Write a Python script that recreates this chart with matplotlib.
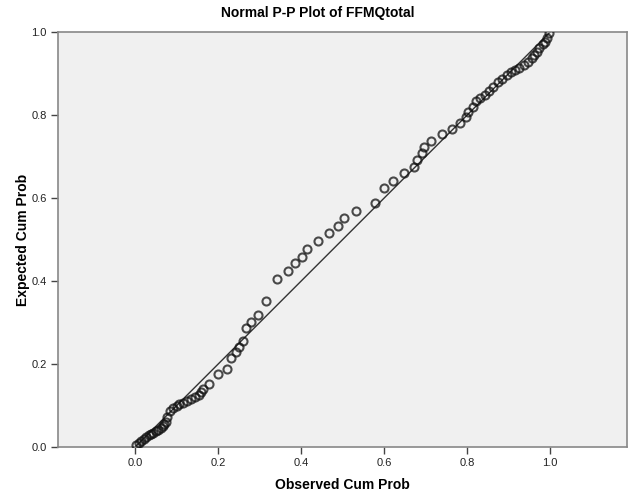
import matplotlib
matplotlib.use("Agg")
import matplotlib.pyplot as plt

plt.rcParams['font.family'] = ['Liberation Sans', 'DejaVu Sans']

# observed vs expected cumulative probabilities
obs = [0.003, 0.010, 0.015, 0.021, 0.027, 0.033, 0.039, 0.044, 0.050, 0.055,
       0.061, 0.066, 0.070, 0.074, 0.077, 0.084, 0.090, 0.100, 0.106, 0.116,
       0.125, 0.135, 0.145, 0.153, 0.158, 0.164, 0.178, 0.200, 0.220, 0.232,
       0.242, 0.251, 0.259, 0.268, 0.280, 0.296, 0.314, 0.341, 0.367, 0.384,
       0.402, 0.414, 0.440, 0.467, 0.488, 0.503, 0.533, 0.577, 0.600, 0.620,
       0.648, 0.672, 0.680, 0.690, 0.697, 0.713, 0.740, 0.764, 0.782, 0.797,
       0.803, 0.813, 0.821, 0.832, 0.844, 0.853, 0.863, 0.875, 0.884, 0.895,
       0.905, 0.915, 0.925, 0.937, 0.947, 0.955, 0.961, 0.967, 0.973, 0.982,
       0.987, 0.993, 0.997]
expd = [0.005, 0.010, 0.015, 0.020, 0.025, 0.028, 0.031, 0.034, 0.038, 0.041,
        0.045, 0.050, 0.055, 0.060, 0.073, 0.087, 0.095, 0.099, 0.103, 0.107,
        0.111, 0.115, 0.120, 0.126, 0.133, 0.140, 0.153, 0.176, 0.189, 0.214,
        0.228, 0.240, 0.255, 0.287, 0.302, 0.319, 0.352, 0.405, 0.423, 0.443,
        0.459, 0.477, 0.496, 0.515, 0.533, 0.552, 0.569, 0.587, 0.623, 0.640,
        0.660, 0.674, 0.692, 0.708, 0.724, 0.738, 0.754, 0.767, 0.781, 0.794,
        0.808, 0.820, 0.834, 0.841, 0.847, 0.858, 0.868, 0.879, 0.887, 0.896,
        0.903, 0.908, 0.914, 0.920, 0.927, 0.937, 0.945, 0.953, 0.961, 0.970,
        0.977, 0.985, 0.997]
ticks = [0.0, 0.2, 0.4, 0.6, 0.8, 1.0]

fig = plt.figure(figsize=(6.35, 4.97), dpi=100)
ax = fig.add_axes([58/635, 50/497, 569/635, 415/497])
ax.set_facecolor('#f0f0f0')

ax.plot([0, 1], [0, 1], color='#333333', lw=1.0, zorder=2)
ax.plot(obs, expd, 'o', ms=5.8, mfc='none', mec='#111111', mew=1.5, alpha=0.75, zorder=3)

ax.set_xlim(-0.186, 1.185)
ax.set_ylim(0, 1)
ax.set_xticks(ticks)
ax.set_yticks(ticks)
ax.set_xticklabels(['%.1f' % t for t in ticks])
ax.set_yticklabels(['%.1f' % t for t in ticks])
ax.tick_params(direction='out', length=5, width=1, color='#444444', labelsize=8, labelcolor='#222222', pad=3)
for s in ax.spines.values():
    s.set_color('#888888')
    s.set_linewidth(1.2)

ax.set_xlabel('Observed Cum Prob', fontsize=10, fontweight='bold', labelpad=7)
ax.set_ylabel('Expected Cum Prob', fontsize=10, fontweight='bold', labelpad=1)
fig.text(0.5, 1 - 13/497, 'Normal P-P Plot of FFMQtotal', ha='center', va='center',
         fontsize=10, fontweight='bold')

fig.savefig('out.png', dpi=100)
